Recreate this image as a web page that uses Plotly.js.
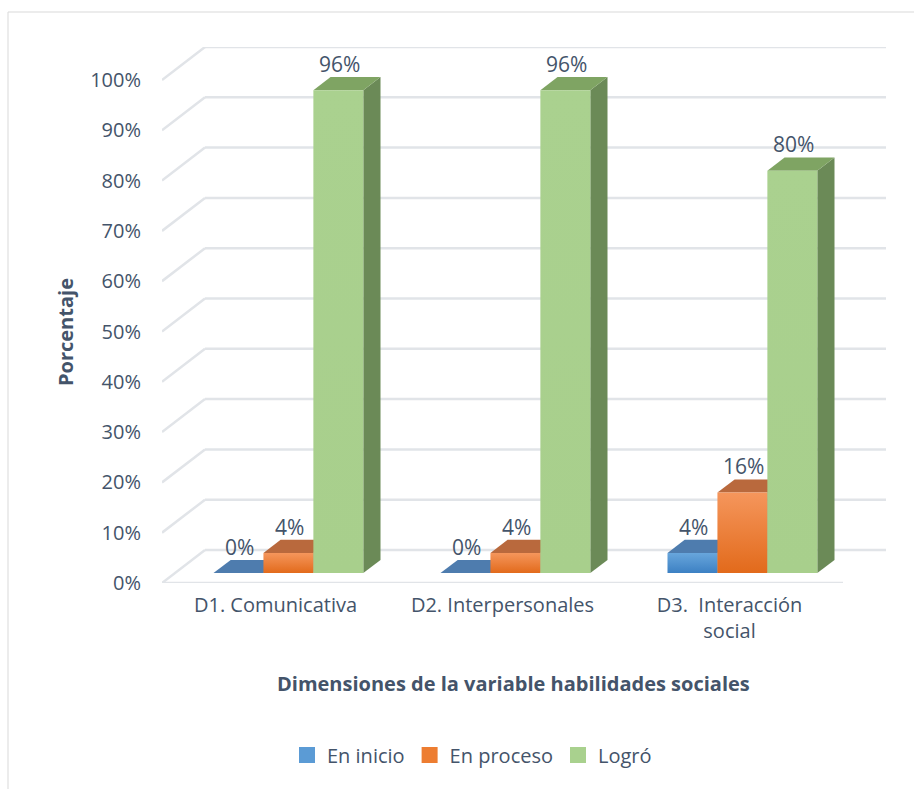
<!DOCTYPE html>
<html>
<head>
<meta charset="utf-8">
<script src="https://cdn.plot.ly/plotly-3.0.1.min.js"></script>
<style>html,body{margin:0;padding:0;background:#fff;}#chart{width:914px;height:789px;}</style>
</head>
<body>
<div id="chart"></div>
<script>
// ---- data ----
const categories = ['D1. Comunicativa', 'D2. Interpersonales', 'D3.  Interacción<br>social'];
const seriesNames = ['En inicio', 'En proceso', 'Logró'];
const enInicio = [0, 0, 4];
const enProceso = [4, 4, 16];
const logro = [96, 96, 80];
const yTickValues = [0, 10, 20, 30, 40, 50, 60, 70, 80, 90, 100];
const yTickLabels = ['0%', '10%', '20%', '30%', '40%', '50%', '60%', '70%', '80%', '90%', '100%'];

// ---- styling / geometry (not data) ----
const seriesValues = [enInicio, enProceso, logro];
const FONT = '"Open Sans", "Noto Sans", sans-serif';
const TXT = '#44546A';
const GRID = '#e1e4e8';
const DX = 0.1894;      // depth offset in category units per unit depth
const DY = 6.56;        // depth offset in percent units per unit depth
const DF = 0.3, DB = 0.7; // bar front / back depth
const BW = 0.22, G0 = 0.17;
const styles = [
  {front: ['#3c80c3', '#68a6dc'], top: '#4e7cae', side: '#3f6c9c', legend: '#5b9bd5'},
  {front: ['#e26a1b', '#f5965c'], top: '#b9693d', side: '#a9582a', legend: '#ed7d31'},
  {front: ['#a8cf8c', '#aad18f'], top: '#7fa463', side: '#6b8a57', legend: '#a9d18e'}
];
const yMax = yTickValues[yTickValues.length - 1] + DY;
const xMax = categories.length + DX;

const traces = [];
// gridlines: back wall, side wall, floor front
const gx = [], gy = [];
yTickValues.forEach(v => {
  gx.push(DX, xMax, null); gy.push(v + DY, v + DY, null);
  gx.push(0, DX, null); gy.push(v, v + DY, null);
});
gx.push(0, categories.length, null); gy.push(0, 0, null);
traces.push({type: 'scatter', mode: 'lines', x: gx, y: gy, line: {color: GRID, width: 2.5},
  hoverinfo: 'skip', showlegend: false});

function poly(xs, ys, extra) {
  return Object.assign({type: 'scatter', mode: 'lines', x: xs.concat([xs[0]]), y: ys.concat([ys[0]]),
    fill: 'toself', line: {width: 0}, hoverinfo: 'skip', showlegend: false}, extra);
}

categories.forEach((c, k) => {
  seriesValues.forEach((arr, i) => {
    const v = arr[k];
    const x0 = k + G0 + i * BW, x1 = x0 + BW;
    const st = styles[i];
    // side face
    traces.push(poly([x1 + DX * DF, x1 + DX * DB, x1 + DX * DB, x1 + DX * DF],
                     [DY * DF, DY * DB, v + DY * DB, v + DY * DF], {fillcolor: st.side}));
    // top face
    traces.push(poly([x0 + DX * DF, x1 + DX * DF, x1 + DX * DB, x0 + DX * DB],
                     [v + DY * DF, v + DY * DF, v + DY * DB, v + DY * DB], {fillcolor: st.top}));
    // front face
    if (v > 0) {
      traces.push(poly([x0 + DX * DF, x1 + DX * DF, x1 + DX * DF, x0 + DX * DF],
                       [DY * DF, DY * DF, v + DY * DF, v + DY * DF],
                       {fillcolor: st.front[1], fillgradient: {type: 'vertical', colorscale: [[0, st.front[0]], [1, st.front[1]]]}}));
    }
  });
});

// data labels
seriesValues.forEach((arr, i) => {
  traces.push({type: 'scatter', mode: 'text',
    x: arr.map((v, k) => k + G0 + i * BW + BW / 2 + DX * 0.33),
    y: arr.map(v => v + DY * DB),
    text: arr.map(v => v + '%'), textposition: 'top center',
    textfont: {family: FONT, size: 21, color: TXT}, hoverinfo: 'skip', showlegend: false, cliponaxis: false});
});

// legend entries
seriesNames.forEach((n, i) => {
  traces.push({type: 'scatter', mode: 'markers', x: [null], y: [null], name: n,
    marker: {symbol: 'square', size: 16, color: styles[i].legend}, showlegend: true});
});

const W = 914, H = 789, L = 162, R = 28, T = 47, B = 206;
const pw = W - L - R, ph = H - T - B;
const px = x => (x - L) / pw, py = y => (H - B - y) / ph;

const layout = {
  width: W, height: H, autosize: false,
  margin: {l: L, r: R, t: T, b: B},
  paper_bgcolor: '#fff', plot_bgcolor: 'rgba(0,0,0,0)',
  font: {family: FONT, color: TXT},
  showlegend: true,
  legend: {orientation: 'h', xref: 'container', yref: 'container', x: 472 / W, y: 1 - 755 / H,
    xanchor: 'center', yanchor: 'middle', font: {family: FONT, size: 20, color: TXT}},
  xaxis: {range: [0, xMax], showgrid: false, zeroline: false, showline: false, fixedrange: true,
    tickvals: categories.map((c, k) => k + 0.5), ticktext: categories, ticks: '',
    tickfont: {family: FONT, size: 20, color: TXT}, ticklabelstandoff: 8},
  yaxis: {range: [0, yMax], showgrid: false, zeroline: false, showline: false, fixedrange: true,
    tickvals: yTickValues, ticktext: yTickLabels, ticks: '',
    tickfont: {family: FONT, size: 20, color: TXT}, ticklabelstandoff: 20},
  annotations: [
    {xref: 'paper', yref: 'paper', x: px(513), y: py(683), text: '<b>Dimensiones de la variable habilidades sociales</b>',
      showarrow: false, font: {family: FONT, size: 20, color: TXT}, xanchor: 'center', yanchor: 'middle'},
    {xref: 'paper', yref: 'paper', x: px(65), y: py(332), text: '<b>Porcentaje</b>', textangle: -90,
      showarrow: false, font: {family: FONT, size: 20, color: TXT}, xanchor: 'center', yanchor: 'middle'}
  ],
  shapes: [
    {type: 'rect', xref: 'paper', yref: 'paper', x0: px(8), x1: px(920), y0: py(12), y1: py(800),
      line: {color: '#d9d9d9', width: 1}, fillcolor: 'rgba(0,0,0,0)', layer: 'below'}
  ]
};

Plotly.newPlot('chart', traces, layout, {displayModeBar: false, staticPlot: true});
</script>
</body>
</html>
